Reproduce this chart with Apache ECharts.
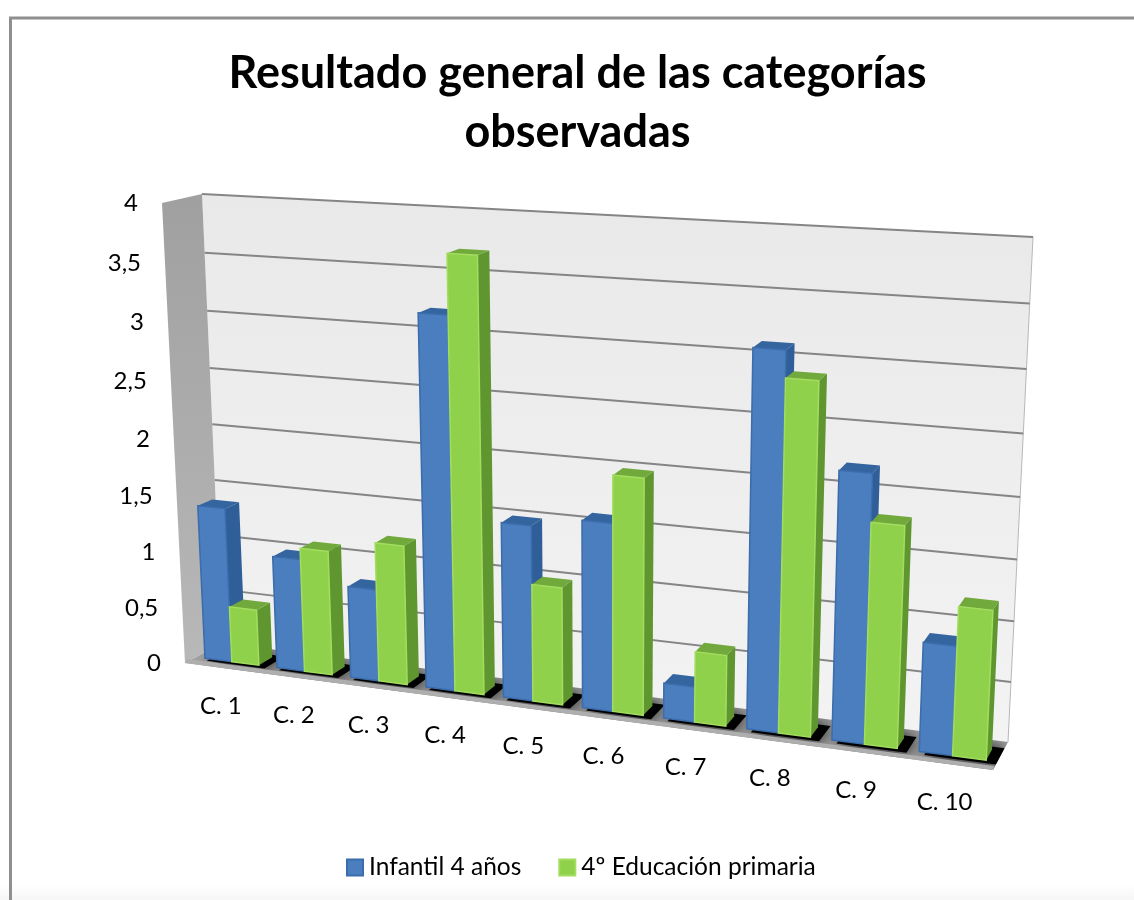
<!DOCTYPE html>
<html><head><meta charset="utf-8">
<style>html,body{margin:0;padding:0;background:#fff}#c{width:1134px;height:900px}</style>
<script src="https://cdn.jsdelivr.net/npm/echarts@6/dist/echarts.min.js"></script>
</head><body><div id="c"></div>
<script>
const categories = ['C. 1','C. 2','C. 3','C. 4','C. 5','C. 6','C. 7','C. 8','C. 9','C. 10'];
const infantil = [1.38,1.0,0.81,3.2,1.51,1.6,0.3,3.12,2.21,0.9];
const primaria = [0.5,1.1,1.22,3.7,1.01,2.0,0.6,2.9,1.82,1.22];
const tickValues = [0,0.5,1,1.5,2,2.5,3,3.5,4];
const tickLabels = ['0','0,5','1','1,5','2','2,5','3','3,5','4'];
const seriesNames = ['Infantil 4 años','4º Educación primaria'];

// projection of the box: grid space -> oblique picture plane
const GRID = {left:160, top:204, width:840, height:460};
function quad(p0,p1,p2,p3){
  const dx1=p1[0]-p2[0],dx2=p3[0]-p2[0],sx=p0[0]-p1[0]+p2[0]-p3[0];
  const dy1=p1[1]-p2[1],dy2=p3[1]-p2[1],sy=p0[1]-p1[1]+p2[1]-p3[1];
  const den=dx1*dy2-dx2*dy1;
  const g=(sx*dy2-dx2*sy)/den,h=(dx1*sy-sx*dy1)/den;
  const a=p1[0]-p0[0]+g*p1[0],b=p3[0]-p0[0]+h*p3[0],c=p0[0];
  const d=p1[1]-p0[1]+g*p1[1],e=p3[1]-p0[1]+h*p3[1],f=p0[1];
  return (u,v)=>{const q=g*u+h*v+1;return [(a*u+b*v+c)/q,(d*u+e*v+f)/q];};
}
const front = quad([185,663],[993,770],[1016,254],[162,203]);
const back  = quad([222,643],[1008,742],[1033,237],[202,194]);
function project(pt,w){
  const u=(pt[0]-GRID.left)/GRID.width, v=(GRID.top+GRID.height-pt[1])/GRID.height;
  const f=front(u,v), b=back(u,v);
  return [f[0]+(b[0]-f[0])*w, f[1]+(b[1]-f[1])*w];
}
const FW=0.30, BW=0.68;   // bar depth range
const BAR=0.375;          // bar width as share of a category
const COL={blue:{front:'#4a7ebf',edge:'#3b6cab',side:'#2f5e99',top:'#35659f'},
           green:{front:'#8fd14a',edge:'#a2dd5f',side:'#5f9630',top:'#71a93c'}};

function poly(points,fill,extra){
  return Object.assign({type:'polygon',shape:{points},style:{fill,stroke:null}},extra||{});
}
function renderBar(offset,c){
  return function(params,api){
    const i=api.value(0),val=api.value(1);
    const base=api.coord([i,0]),top=api.coord([i,val]);
    const cw=api.size([1,0])[0];
    const x0=base[0]+offset*cw,x1=x0+BAR*cw;
    const P=(x,y,w)=>project([x,y],w);
    return {type:'group',children:[
      poly([P(x1,base[1],FW),P(x1,top[1],FW),P(x1,top[1],BW),P(x1,base[1],BW)],c.side),
      poly([P(x0,top[1],FW),P(x1,top[1],FW),P(x1,top[1],BW),P(x0,top[1],BW)],c.top),
      {type:'polygon',shape:{points:[P(x0,base[1],FW),P(x1,base[1],FW),P(x1,top[1],FW),P(x0,top[1],FW)]},
       style:{fill:c.front,stroke:c.edge,lineWidth:1.5}}
    ]};
  };
}
function renderShadow(params,api){
  const i=api.value(0);
  const base=api.coord([i,0]);
  const cw=api.size([1,0])[0];
  const P=(x,w)=>project([x,base[1]],w);
  const x0=base[0]-0.3*cw,x1=base[0]+0.5*cw;
  const L=GRID.left,R=GRID.left+GRID.width;
  return poly([P(x0,0.2),P(x1,0.2),P(x1,0.78),P(x0,0.78)],'#000',
    {style:{fill:'#000',shadowBlur:16,shadowColor:'rgba(0,0,0,.95)'},
     clipPath:{type:'polygon',shape:{points:[P(L,0),P(R,0),P(R,1),P(L,1)]}}});
}
function renderBox(params,api){
  const bottom=api.coord([0,0])[1],topY=api.coord([0,4])[1];
  const L=GRID.left,R=GRID.left+GRID.width;
  const P=(x,y,w)=>project([x,y],w);
  return {type:'group',children:[
    poly([P(L,bottom,1),P(R,bottom,1),P(R,topY,1),P(L,topY,1)],
      new echarts.graphic.LinearGradient(0,0,0,1,[{offset:0,color:'#e9e9e9'},{offset:1,color:'#f3f3f3'}])),
    poly([P(L,bottom,0),P(L,bottom,1),P(L,topY,1),P(L,topY,0)],
      new echarts.graphic.LinearGradient(0,0,0,1,[{offset:0,color:'#a0a0a0'},{offset:1,color:'#b8b8b8'}])),
    poly([P(L,bottom,0),P(R,bottom,0),P(R,bottom,1),P(L,bottom,1)],'#a2a2a2'),
    {type:'line',shape:{x1:P(R,bottom,1)[0],y1:P(R,bottom,1)[1],x2:P(R,topY,1)[0],y2:P(R,topY,1)[1]},
      style:{stroke:'#b8b8b8',lineWidth:1}}
  ]};
}
function renderStrip(params,api){
  const bottom=api.coord([0,0])[1];
  const a=project([GRID.left,bottom],0),b=project([GRID.left+GRID.width,bottom],0);
  return {type:'polygon',shape:{points:[[a[0],a[1]],[b[0],b[1]],[b[0]+1,b[1]-4],[a[0]+2,a[1]-4]]},style:{fill:'#aeaeae'}};
}
function renderGridline(params,api){
  const y=api.coord([0,api.value(0)])[1];
  const L=GRID.left,R=GRID.left+GRID.width;
  const a=project([L,y],1),b=project([R,y],1),c=project([L,y],0);
  const kids=[];
  if(api.value(0)>0){
    kids.push({type:'line',shape:{x1:a[0],y1:a[1],x2:b[0],y2:b[1]},style:{stroke:'#858585',lineWidth:2}});
  }
  kids.push({type:'text',style:{x:c[0]-24,y:c[1],text:tickLabels[params.dataIndex],align:'right',verticalAlign:'middle',
      font:'24px Lato, "Open Sans", sans-serif',fill:'#000'}});
  return {type:'group',children:kids};
}
function renderCatLabel(params,api){
  const i=api.value(0);
  const c=api.coord([i,0]);
  const p=project(c,0);
  return {type:'text',style:{x:p[0]-0.004*(p[0]-185),y:p[1]+38,text:categories[i],align:'center',verticalAlign:'middle',
      font:'24px Lato, "Open Sans", sans-serif',fill:'#000'}};
}
const chart=echarts.init(document.getElementById('c'),null,{renderer:'canvas'});
const frameData=[[0]];
chart.setOption({
  animation:false,
  backgroundColor:'#fff',
  graphic:[
    {type:'rect',z:0,silent:true,shape:{x:0,y:884,width:1134,height:16},style:{fill:new echarts.graphic.LinearGradient(0,0,0,1,[{offset:0,color:'#ffffff'},{offset:1,color:'#f6f6f6'}])}},
    {type:'rect',z:1,silent:true,shape:{x:10.5,y:18,width:1140,height:900},style:{fill:'transparent',stroke:'#8f8f8f',lineWidth:3}}
  ],
  title:{text:'Resultado general de las categorías\nobservadas',left:572.5,top:39,textAlign:'center',
    textStyle:{fontFamily:'Lato, "Open Sans", sans-serif',fontWeight:'bold',fontSize:45,lineHeight:59,color:'#000'}},
  legend:{data:seriesNames,left:341,top:850,icon:'rect',itemWidth:16,itemHeight:16,itemGap:37,
    textStyle:{fontFamily:'Lato, "Open Sans", sans-serif',fontSize:24.5,color:'#000',padding:[0,0,0,1]}},
  grid:Object.assign({},GRID,{containLabel:false}),
  xAxis:{type:'category',data:categories,boundaryGap:true,show:false},
  yAxis:{type:'value',min:0,max:4,interval:0.5,show:false},
  series:[
    {type:'custom',name:'box',data:frameData,renderItem:renderBox,encode:{x:0,y:0},silent:true,z:1,clip:false},
    {type:'custom',name:'grid',data:tickValues.map(v=>[v]),renderItem:renderGridline,encode:{y:0},silent:true,z:2,clip:false},
    {type:'custom',name:'shadow',data:categories.map((c,i)=>[i]),renderItem:renderShadow,encode:{x:0},silent:true,z:3,clip:false},
    {type:'custom',name:'strip',data:frameData,renderItem:renderStrip,encode:{x:0,y:0},silent:true,z:3.5,clip:false},
    {type:'custom',name:'labels',data:categories.map((c,i)=>[i]),renderItem:renderCatLabel,encode:{x:0},silent:true,z:3.6,clip:false},
    {type:'custom',name:seriesNames[0],data:infantil.map((v,i)=>[i,v]),renderItem:renderBar(-0.375,COL.blue),encode:{x:0,y:1},z:4,clip:false,
      itemStyle:{color:COL.blue.front,borderColor:COL.blue.edge,borderWidth:1.5}},
    {type:'custom',name:seriesNames[1],data:primaria.map((v,i)=>[i,v]),renderItem:renderBar(0,COL.green),encode:{x:0,y:1},z:5,clip:false,
      itemStyle:{color:COL.green.front,borderColor:COL.green.edge,borderWidth:1}}
  ]
});
</script></body></html>
